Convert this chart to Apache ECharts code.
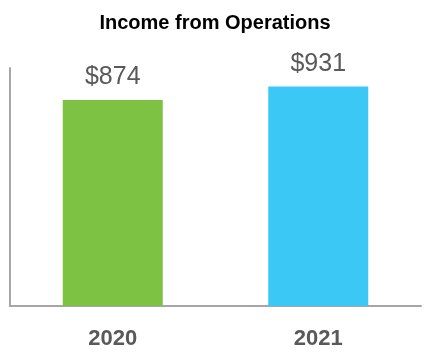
<!DOCTYPE html>
<html><head><meta charset="utf-8">
<script src="https://cdn.jsdelivr.net/npm/echarts@6/dist/echarts.min.js"></script>
<style>html,body{margin:0;padding:0;background:#fff}#c{width:430px;height:360px}</style>
</head><body><div id="c"></div>
<script>
const categories = ['2020', '2021'];
const values = [874, 931];
const barColors = ['#7DC242', '#3CC8F4'];
const labelTexts = ['$874', '$931'];

const chart = echarts.init(document.getElementById('c'), null, {renderer: 'canvas'});
chart.setOption({
  animation: false,
  title: {
    text: 'Income from Operations', left: 'center', top: 8,
    textStyle: {fontFamily: 'Liberation Sans, Arial, sans-serif', fontSize: 20, fontWeight: 'bold', color: '#000'}
  },
  grid: {left: 10, right: 9, top: 68, bottom: 54, containLabel: false},
  xAxis: {
    type: 'category', data: categories,
    axisLine: {show: true, lineStyle: {color: '#a6a6a6', width: 2}},
    axisTick: {show: false},
    axisLabel: {margin: 22, fontFamily: 'Liberation Sans, Arial, sans-serif', fontSize: 22, fontWeight: 'bold', color: '#595959'}
  },
  yAxis: {
    type: 'value', min: 0, max: 1010,
    axisLine: {show: true, lineStyle: {color: '#a6a6a6', width: 2}},
    axisTick: {show: false}, axisLabel: {show: false}, splitLine: {show: false}
  },
  series: [{
    type: 'bar', barWidth: 100,
    data: values.map((v, i) => ({value: v, itemStyle: {color: barColors[i]}})),
    label: {
      show: true, position: 'top', distance: 10,
      formatter: p => labelTexts[p.dataIndex],
      fontFamily: 'Liberation Sans, Arial, sans-serif', fontSize: 25, color: '#595959'
    }
  }]
});
</script></body></html>
